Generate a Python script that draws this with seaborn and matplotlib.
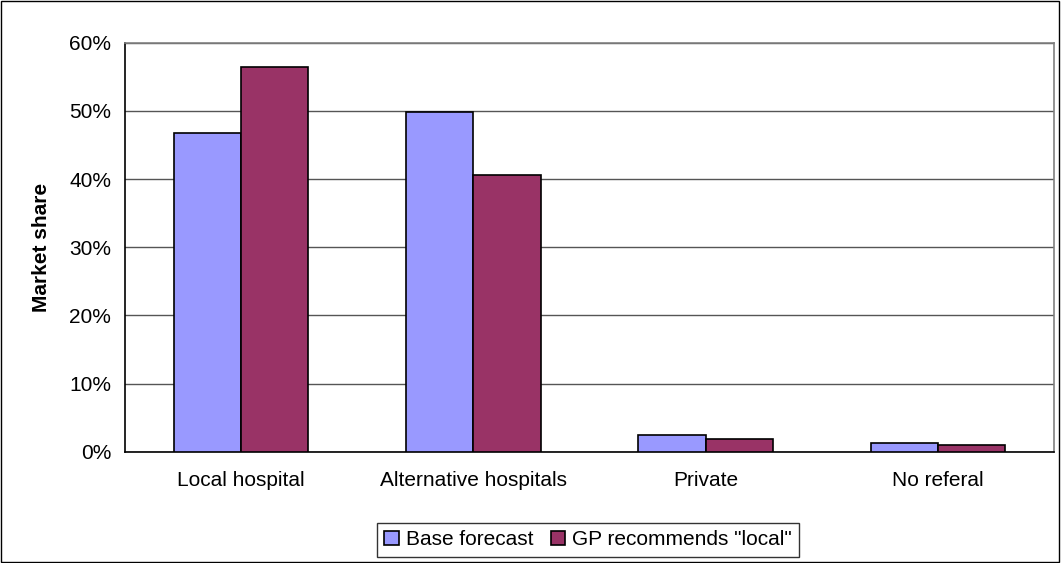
import pandas as pd
import numpy as np
import matplotlib
matplotlib.use("Agg")
import matplotlib.pyplot as plt
import seaborn as sns
from matplotlib.ticker import PercentFormatter
from matplotlib.patches import Rectangle

# Values
categories = ["Local hospital", "Alternative hospitals", "Private", "No referal"]
base_forecast = [0.467, 0.498, 0.025, 0.013]
gp_local = [0.564, 0.406, 0.019, 0.010]
series_names = ["Base forecast", 'GP recommends "local"']
colors = ["#9999FF", "#993366"]

df = pd.DataFrame({
    "category": categories * 2,
    "share": base_forecast + gp_local,
    "series": [series_names[0]] * 4 + [series_names[1]] * 4,
})

sns.set_style("white")
plt.rcParams["font.family"] = ["Liberation Sans", "DejaVu Sans"]
plt.rcParams["text.color"] = "black"
plt.rcParams["axes.labelcolor"] = "black"
plt.rcParams["xtick.color"] = "black"
plt.rcParams["ytick.color"] = "black"

fig = plt.figure(figsize=(10.61, 5.63), dpi=100)
ax = fig.add_axes([0.1178, 0.1977, 0.8756, 0.7265])

sns.barplot(data=df, x="category", y="share", hue="series", palette=colors,
            width=0.58, gap=0, edgecolor="black", linewidth=1.2, saturation=1,
            ax=ax, zorder=3)

ax.set_ylim(0, 0.6)
ax.set_xlim(-0.5, 3.5)
ax.set_yticks(np.arange(0, 0.61, 0.1))
ax.yaxis.set_major_formatter(PercentFormatter(1.0, decimals=0))
ax.yaxis.grid(True, color="#555555", linewidth=1, zorder=0)
ax.set_axisbelow(True)

# category separators as x ticks
ax.set_xticks([-0.5, 0.5, 1.5, 2.5, 3.5], minor=False)
ax.set_xticklabels([])
ax.set_xticks(range(4), minor=True)
ax.set_xticklabels(categories, minor=True, fontsize=15, color="black")
ax.tick_params(axis="x", which="minor", length=0, pad=14)
ax.tick_params(axis="x", which="major", length=6, width=1, color="black", direction="out")
ax.tick_params(axis="y", length=6, width=1, color="black", direction="out",
               labelsize=15, labelcolor="black", pad=4)

for s in ["left", "bottom"]:
    ax.spines[s].set_color("black")
    ax.spines[s].set_linewidth(1.2)
for s in ["top", "right"]:
    ax.spines[s].set_color("#808080")
    ax.spines[s].set_linewidth(1.2)

ax.set_xlabel("")
ax.set_ylabel("Market share", fontsize=15, fontweight="bold", labelpad=13, color="black")

handles, labels = ax.get_legend_handles_labels()
ax.legend_.remove()
leg = fig.legend(handles, labels, loc="center", bbox_to_anchor=(0.5545, 0.041), ncol=2,
                 fontsize=15, frameon=True, fancybox=False, edgecolor="black",
                 handlelength=0.7, handleheight=0.7, handletextpad=0.35,
                 columnspacing=0.8, borderpad=0.35, borderaxespad=0)
leg.get_frame().set_linewidth(1)
for t in leg.get_texts():
    t.set_color("black")

# outer chart border
fig.patches.append(Rectangle((0.001, 0.001), 0.997, 0.997, transform=fig.transFigure,
                             fill=False, edgecolor="black", linewidth=1))

fig.savefig("out.png", dpi=100)
